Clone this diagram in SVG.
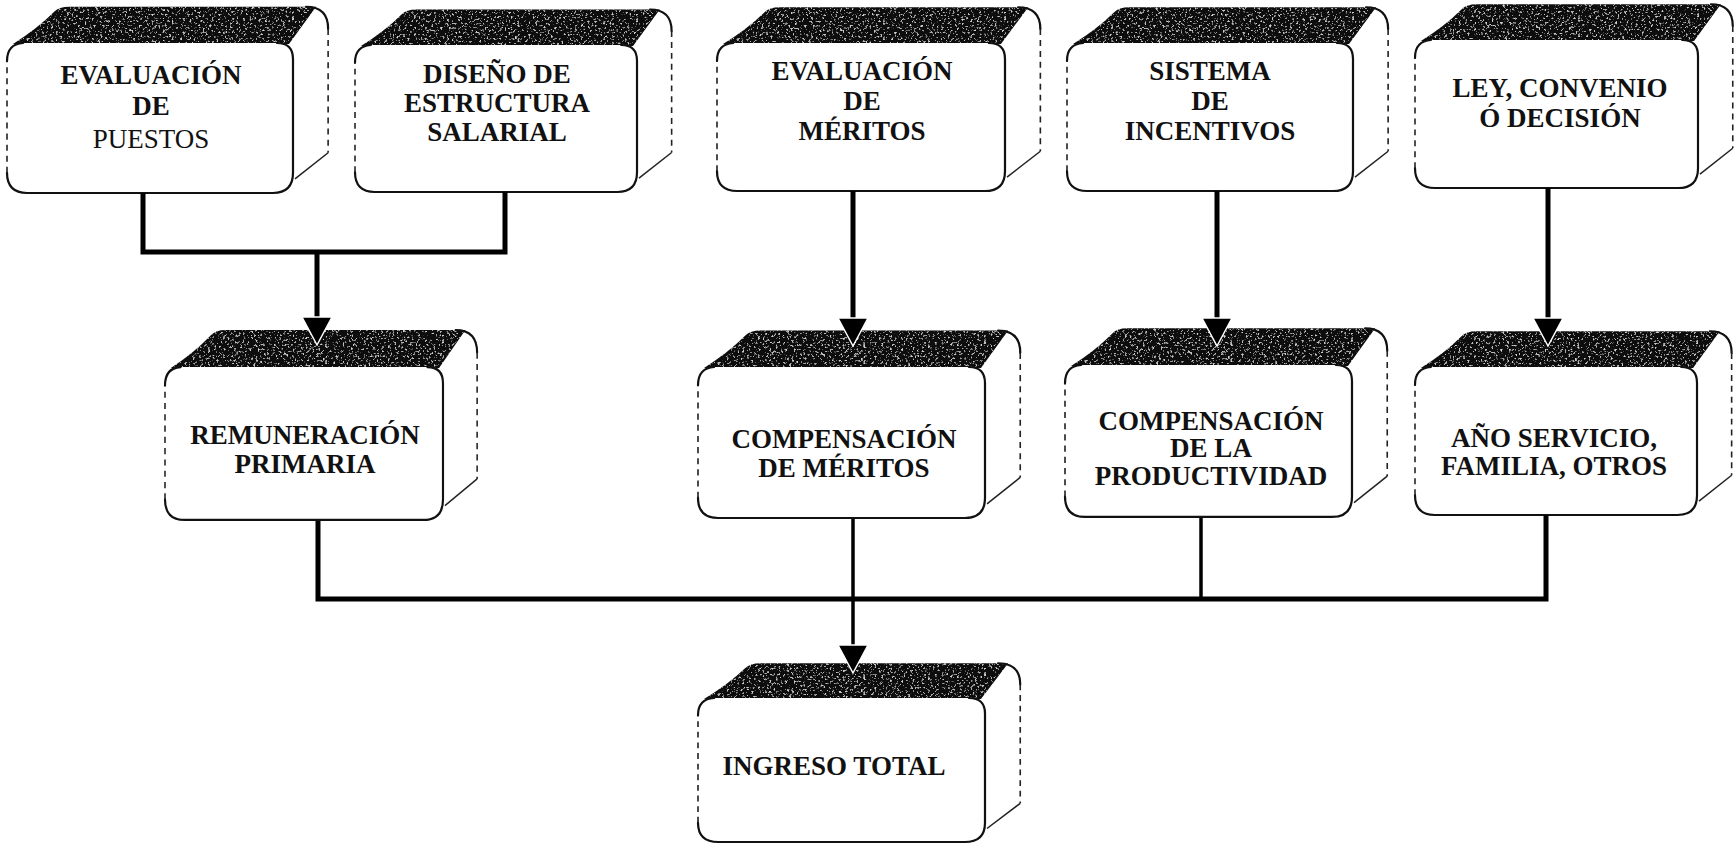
<svg xmlns="http://www.w3.org/2000/svg" xmlns:xlink="http://www.w3.org/1999/xlink" width="1734" height="851" viewBox="0 0 1734 851">
  <style>
    .lbl { font-family: "Liberation Serif", "Times New Roman", serif; font-size: 27px; font-weight: bold; fill: #111; text-anchor: middle; }
    .reg { font-weight: normal; }
    .edge { fill: none; stroke: #111; stroke-width: 2.2; stroke-linecap: round; }
    .dash { fill: none; stroke: #222; stroke-width: 1.6; stroke-dasharray: 6 5; }
    .thin { fill: none; stroke: #222; stroke-width: 1.5; }
    .top { fill: #0c0c0c; filter: url(#grain); }
    .wire { fill: none; stroke: #000; stroke-width: 5; stroke-linejoin: miter; }
    .wire-thin { fill: none; stroke: #000; stroke-width: 3.5; }
  </style>
  <defs>
    <!-- mottled texture for the dark top faces -->
    <filter id="grain" x="0" y="0" width="1" height="1">
      <feTurbulence type="fractalNoise" baseFrequency="0.45" numOctaves="3" seed="7" result="noise"/>
      <feColorMatrix in="noise" type="matrix" values="0 0 0 0 0.62  0 0 0 0 0.62  0 0 0 0 0.62  6 0 0 0 -3.55" result="specks"/>
      <feComposite in="specks" in2="SourceGraphic" operator="in" result="clipped"/>
      <feMerge>
        <feMergeNode in="SourceGraphic"/>
        <feMergeNode in="clipped"/>
      </feMerge>
    </filter>
    <!-- 3D rounded block, 285 x 149 front face -->
    <g id="block">
      <path class="top" d="M6,1 Q30,-14 47,-31 Q52,-36 62,-36 L308,-36 L281,1 Z"/>
      <path d="M16,0 H269 Q285,0 285,16 V129 Q285,149 265,149 H20 Q0,149 0,129 V16 Q0,0 16,0 Z" fill="#fff"/>
      <path class="edge" d="M298,-36 Q320,-36 320,-14"/>
      <path class="dash" d="M320,-14 V109"/>
      <path class="thin" d="M320,109 L287,135"/>
      <path class="edge" d="M269,0 Q285,0 285,16 V129 Q285,149 265,149 H20 Q0,149 0,129"/>
      <path class="dash" d="M0,129 V16"/>
      <path class="edge" d="M0,18 Q0,1 16,0"/>
    </g>
    <marker id="arrow" viewBox="-2 -2 32 34" refX="18" refY="15" markerWidth="32" markerHeight="34" markerUnits="userSpaceOnUse" orient="auto">
      <polygon points="0,0 28,15 0,30" fill="#000" stroke="#fff" stroke-width="1.5" stroke-linejoin="miter"/>
    </marker>
  </defs>

  <rect width="1734" height="851" fill="#fff"/>

  <g id="evaluacion-puestos">
    <use xlink:href="#block" transform="translate(7,43) scale(1.0035,1.0067)"/>
    <text class="lbl" x="151" y="84">EVALUACIÓN</text>
    <text class="lbl" x="151" y="115">DE</text>
    <text class="lbl reg" x="151" y="148">PUESTOS</text>
  </g>

  <g id="diseno-estructura">
    <use xlink:href="#block" transform="translate(355,45) scale(0.9895,0.9866)"/>
    <text class="lbl" x="497" y="83">DISEÑO DE</text>
    <text class="lbl" x="497" y="112">ESTRUCTURA</text>
    <text class="lbl" x="497" y="141">SALARIAL</text>
  </g>

  <g id="evaluacion-meritos">
    <use xlink:href="#block" transform="translate(717,43) scale(1.0105,0.9933)"/>
    <text class="lbl" x="862" y="80">EVALUACIÓN</text>
    <text class="lbl" x="862" y="110">DE</text>
    <text class="lbl" x="862" y="140">MÉRITOS</text>
  </g>

  <g id="sistema-incentivos">
    <use xlink:href="#block" transform="translate(1067,43) scale(1.0035,0.9933)"/>
    <text class="lbl" x="1210" y="80">SISTEMA</text>
    <text class="lbl" x="1210" y="110">DE</text>
    <text class="lbl" x="1210" y="140">INCENTIVOS</text>
  </g>

  <g id="ley-convenio">
    <use xlink:href="#block" transform="translate(1415,40) scale(0.993,0.9933)"/>
    <text class="lbl" x="1560" y="97">LEY, CONVENIO</text>
    <text class="lbl" x="1560" y="127">Ó DECISIÓN</text>
  </g>

  <g id="remuneracion-primaria">
    <use xlink:href="#block" transform="translate(165,367) scale(0.9754,1.0268)"/>
    <text class="lbl" x="305" y="444">REMUNERACIÓN</text>
    <text class="lbl" x="305" y="473">PRIMARIA</text>
  </g>

  <g id="compensacion-meritos">
    <use xlink:href="#block" transform="translate(698,367) scale(1.007,1.0134)"/>
    <text class="lbl" x="844" y="448">COMPENSACIÓN</text>
    <text class="lbl" x="844" y="477">DE MÉRITOS</text>
  </g>

  <g id="compensacion-productividad">
    <use xlink:href="#block" transform="translate(1065,365) scale(1.007,1.0201)"/>
    <text class="lbl" x="1211" y="430">COMPENSACIÓN</text>
    <text class="lbl" x="1211" y="457">DE LA</text>
    <text class="lbl" x="1211" y="485">PRODUCTIVIDAD</text>
  </g>

  <g id="ano-servicio">
    <use xlink:href="#block" transform="translate(1415,367) scale(0.9895,0.9933)"/>
    <text class="lbl" x="1554" y="447">AÑO SERVICIO,</text>
    <text class="lbl" x="1554" y="475">FAMILIA, OTROS</text>
  </g>

  <g id="ingreso-total">
    <use xlink:href="#block" transform="translate(698,698) scale(1.007,0.9664)"/>
    <text class="lbl" x="834" y="775">INGRESO TOTAL</text>
  </g>

  <g id="connectors">
    <path class="wire" d="M143,193 V252 H505 V192"/>
    <path class="wire" d="M317,252 V335" marker-end="url(#arrow)"/>
    <path class="wire" d="M853,191 V336" marker-end="url(#arrow)"/>
    <path class="wire" d="M1217,191 V336" marker-end="url(#arrow)"/>
    <path class="wire" d="M1548,188 V336" marker-end="url(#arrow)"/>
    <path class="wire" d="M318,521 V599 H1546 V515"/>
    <path class="wire-thin" d="M1201,518 V599"/>
    <path class="wire-thin" d="M853,519 V663" marker-end="url(#arrow)"/>
  </g>
</svg>
